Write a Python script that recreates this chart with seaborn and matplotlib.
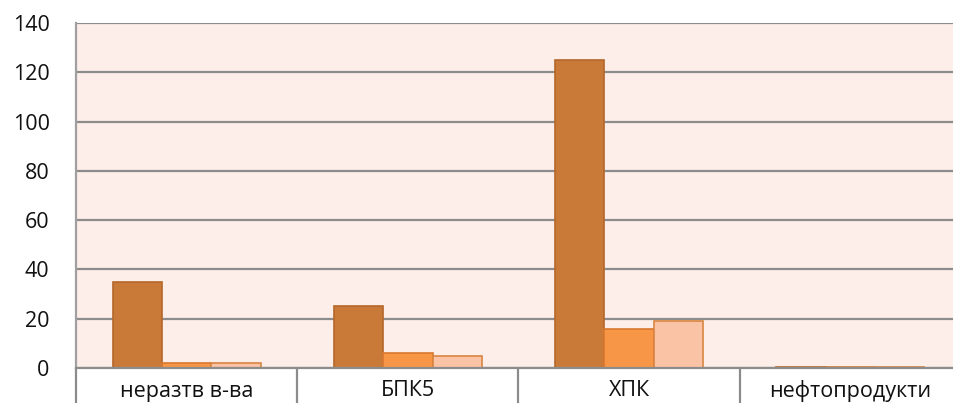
# Bar chart: three series per pollutant category
import pandas as pd
import matplotlib.pyplot as plt
import seaborn as sns

# Data
categories = ['неразтв в-ва', 'БПК5', 'ХПК', 'нефтопродукти']
series_names = ['s1', 's2', 's3']
s1 = [35, 25, 125, 0.3]
s2 = [2, 6, 16, 0.3]
s3 = [2, 5, 19, 0.3]
y_ticks = [0, 20, 40, 60, 80, 100, 120, 140]

fill_colors = ['#C97A38', '#F79646', '#FAC3A6']
edge_colors = ['#B5672A', '#D9782F', '#D98540']

df = pd.DataFrame({
    'cat': categories * 3,
    'series': [n for n in series_names for _ in categories],
    'value': s1 + s2 + s3,
})

plt.rcParams['font.family'] = ['Open Sans', 'DejaVu Sans']
fig = plt.figure(figsize=(9.54, 4.03), dpi=100)
ax = fig.add_axes([76 / 954, 1 - 368 / 403, 885 / 954, 345 / 403])
ax.set_facecolor('#FDEEE9')

sns.barplot(data=df, x='cat', y='value', hue='series', order=categories,
            hue_order=series_names, palette=fill_colors, width=0.67,
            saturation=1, legend=False, ax=ax, zorder=3)

for cont, ec in zip(ax.containers, edge_colors):
    for p in cont:
        p.set_edgecolor(ec)
        p.set_linewidth(1.2)

ax.set_ylim(0, 140)
ax.set_yticks(y_ticks)
ax.set_xlim(-0.5, len(categories) - 0.5)
ax.yaxis.grid(True, color='#8C8C8C', linewidth=1.6, zorder=1)
ax.set_axisbelow(True)
ax.set_xlabel('')
ax.set_ylabel('')

for side in ['top', 'right']:
    ax.spines[side].set_visible(False)
ax.spines['left'].set_color('#A0A0A0')
ax.spines['left'].set_linewidth(1.6)
ax.spines['bottom'].set_color('#8C8C8C')
ax.spines['bottom'].set_linewidth(1.6)
ax.spines['bottom'].set_zorder(4)

# category boxes below the axis
ax.set_xticks([i - 0.5 for i in range(len(categories) + 1)], minor=True)
ax.tick_params(axis='x', which='minor', length=36, width=1.6, color='#8C8C8C')
ax.tick_params(axis='x', which='major', length=0, pad=9, labelsize=15.5,
               labelcolor='#111111')
ax.tick_params(axis='y', length=0, pad=19, labelsize=15.5, labelcolor='#111111')

plt.savefig('out.png', dpi=100)
